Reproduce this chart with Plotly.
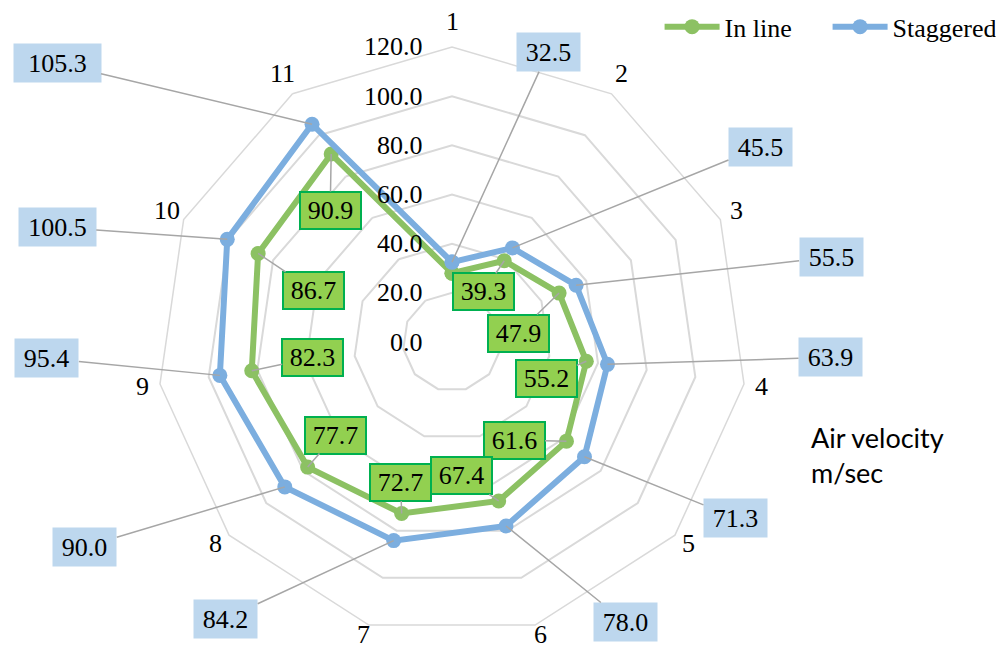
import math
import plotly.graph_objects as go

# Categories (tube rows) and the two series
categories = ["1", "2", "3", "4", "5", "6", "7", "8", "9", "10", "11"]
in_line = [28.0, 39.3, 47.9, 55.2, 61.6, 67.4, 72.7, 77.7, 82.3, 86.7, 90.9]
staggered = [32.5, 45.5, 55.5, 63.9, 71.3, 78.0, 84.2, 90.0, 95.4, 100.5, 105.3]
radial_ticks = [0, 20, 40, 60, 80, 100, 120]

# Label box offsets (px) from each marker, and box widths
stag_offsets = [(96, -210), (248, -101), (255, -28), (223, -7), (151, 61), (119, 96),
                (-168, 78), (-200, 60), (-173, -17), (-170, -12), (-255, -61)]
stag_widths = [59, 59, 59, 59, 59, 59, 59, 59, 59, 73, 83]
inl_offsets = [None, (-21, 31), (-41, 40), (-40, 17), (-52, -1), (-37, -25),
               (-1, -31), (28, -32), (61, -13), (55, 37), (-1, 56)]

W, H = 1007, 648
R_MAX = 120
CX, CY, RAD = 452, 342, 295
LABEL_RAD = 313
TICK_GAP = 27
DOM_X = [(CX - RAD) / W, (CX + RAD) / W]
DOM_Y = [(H - (CY + RAD)) / H, (H - (CY - RAD)) / H]

GREEN = "#8CC163"
BLUE = "#7CAEDF"
SERIF = "Liberation Serif"
FS = 26


def to_pixels(radius_px, idx):
    theta = math.radians(idx * 360 / len(categories))
    return CX + radius_px * math.sin(theta), CY - radius_px * math.cos(theta)


def to_paper(value, idx):
    """Project a polar (value, category index) onto paper coordinates."""
    px, py = to_pixels(value / R_MAX * RAD, idx)
    return px / W, 1 - py / H


fig = go.Figure()
for name, vals, col in [("In line", in_line, GREEN), ("Staggered", staggered, BLUE)]:
    fig.add_trace(go.Scatterpolar(
        r=vals + vals[:1], theta=categories + categories[:1], name=name,
        mode="lines+markers",
        line=dict(color=col, width=6),
        marker=dict(color=col, size=15),
    ))

annotations = []
for i, v in enumerate(staggered):
    x, y = to_paper(v, i)
    dx, dy = stag_offsets[i]
    annotations.append(dict(
        x=x, y=y, xref="paper", yref="paper", ax=dx, ay=dy,
        text=f"{v:.1f}", showarrow=True, arrowhead=0, arrowwidth=1.5,
        arrowcolor="#A6A6A6", bgcolor="#BDD7EE", borderpad=2,
        width=stag_widths[i], height=34,
        font=dict(family=SERIF, size=FS, color="black"),
        xanchor="center", yanchor="middle",
    ))
for i, v in enumerate(in_line):
    if inl_offsets[i] is None:
        continue
    x, y = to_paper(v, i)
    dx, dy = inl_offsets[i]
    annotations.append(dict(
        x=x, y=y, xref="paper", yref="paper", ax=dx, ay=dy,
        text=f"{v:.1f}", showarrow=True, arrowhead=0, arrowwidth=1.5,
        arrowcolor="#A6A6A6", bgcolor="#92D050", bordercolor="#00B050",
        borderwidth=2, borderpad=1, width=57, height=33,
        font=dict(family=SERIF, size=FS, color="black"),
        xanchor="center", yanchor="middle",
    ))

# Category names around the outer ring
for i, name in enumerate(categories):
    px, py = to_pixels(LABEL_RAD, i)
    theta = math.radians(i * 360 / len(categories))
    py -= 8 * math.cos(theta) ** 2
    annotations.append(dict(
        x=px / W, y=1 - py / H, xref="paper", yref="paper", showarrow=False,
        text=name, xanchor="center", yanchor="middle",
        font=dict(family=SERIF, size=FS, color="black"),
    ))

# Radial scale values, set just left of the vertical axis
for t in radial_ticks:
    py = CY - t / R_MAX * RAD
    annotations.append(dict(
        x=(CX - TICK_GAP) / W, y=1 - py / H, xref="paper", yref="paper",
        showarrow=False, text=f"{t:.1f}", xanchor="right", yanchor="middle",
        font=dict(family=SERIF, size=FS, color="black"),
    ))

annotations.append(dict(
    x=809 / W, y=1 - 455 / H, xref="paper", yref="paper", showarrow=False,
    text="Air velocity<br>m/sec", align="left", xanchor="left", yanchor="middle",
    font=dict(family="Lato", size=27, color="black"),
))

fig.update_layout(
    width=W, height=H,
    margin=dict(l=0, r=0, t=0, b=0, autoexpand=False),
    paper_bgcolor="white",
    showlegend=True,
    legend=dict(orientation="h", x=0.655, y=0.995, xanchor="left", yanchor="top",
                font=dict(family=SERIF, size=26, color="black"), itemwidth=55,
                entrywidth=98, entrywidthmode="pixels",
                bgcolor="rgba(0,0,0,0)"),
    polar=dict(
        domain=dict(x=DOM_X, y=DOM_Y),
        bgcolor="white",
        gridshape="linear",
        radialaxis=dict(
            range=[0, R_MAX], tickvals=radial_ticks, showticklabels=False,
            angle=90, showline=False, ticks="",
            gridcolor="#D9D9D9", gridwidth=1.5,
        ),
        angularaxis=dict(
            direction="clockwise", rotation=90, showgrid=False,
            showticklabels=False,
            showline=True, linecolor="#D9D9D9", linewidth=1.5, ticks="",
        ),
    ),
    annotations=annotations,
)

fig.write_html("out.html")
